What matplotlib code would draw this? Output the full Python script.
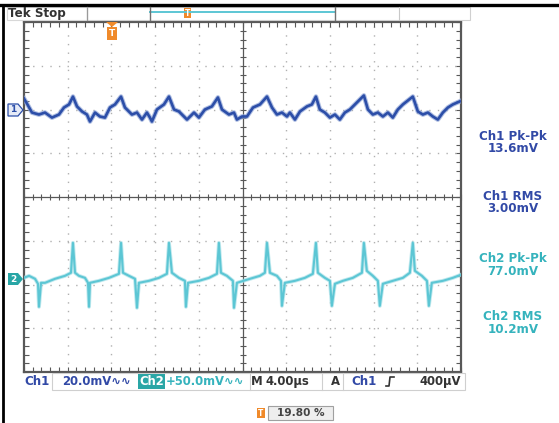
import numpy as np
import matplotlib
matplotlib.use("Agg")
import matplotlib.pyplot as plt
from matplotlib.patches import Polygon, Rectangle
from matplotlib.lines import Line2D

W, H = 559, 423

# ---------------- data ----------------
time_per_div = 4.0      # µs / div
ch1_scale = 20.0        # mV / div
ch2_scale = 50.0        # mV / div
ch1_pos = 2.0           # div
ch2_pos = -1.87         # div

ch1_t = [0.00, 0.27, 0.73, 1.37, 1.92, 2.56, 3.20, 3.66, 4.12, 4.48, 4.85, 5.31,
         5.76, 6.04, 6.50, 6.95, 7.41, 7.87, 8.33, 8.88, 9.24, 9.88, 10.34, 10.80,
         11.25, 11.53, 11.71, 12.17, 12.81, 13.27, 13.73, 14.18, 14.64, 14.92, 15.56,
         16.01, 16.56, 17.20, 17.75, 18.12, 18.76, 19.22, 19.49, 19.95, 20.41, 20.96,
         21.60, 22.24, 22.70, 23.15, 23.61, 24.07, 24.34, 24.80, 25.26, 25.90, 26.35,
         26.72, 27.08, 27.54, 28.00, 28.46, 28.91, 29.37, 29.83, 30.29, 31.11, 31.48,
         31.93, 32.39, 32.85, 33.31, 33.76, 34.22, 34.68, 35.59, 36.05, 36.51, 36.97,
         37.42, 37.88, 38.34, 38.80, 39.25, 39.89]
ch1_mv = [5.0, 2.7, -1.4, -2.3, -1.4, -3.7, -2.3, 0.9, 2.3, 5.9, 1.4, -0.9,
          -2.3, -5.5, -1.4, -3.2, -3.7, 0.9, 2.3, 5.9, 0.9, -2.3, -1.4, -4.6,
          -1.4, -3.7, -5.5, 0.0, 2.3, 5.9, 0.0, -0.9, -3.2, -4.6, -1.4,
          -3.7, 0.0, 1.4, 5.5, 0.0, -2.3, -1.4, -4.6, -3.2, -3.2, 0.9,
          2.3, 5.9, 0.9, -2.3, -1.4, -3.2, -1.4, -4.6, -0.9, 1.4, 2.3,
          5.9, 0.0, -1.4, -3.7, -2.3, -4.6, -1.4, 0.0, 2.3, 6.4, 0.0,
          -2.3, -1.4, -3.2, -1.4, -3.7, 0.0, 2.3, 5.9, -0.9, -2.3, -1.4,
          -3.2, -4.6, -1.4, 0.9, 2.3, 3.7]

ch2_t = [0.00, 0.46, 1.01, 1.28, 1.37, 1.56, 1.92, 2.84, 3.75, 4.30, 4.48, 4.67,
         5.03, 5.58, 5.86, 5.95, 6.04, 6.86, 7.78, 8.69, 8.88, 9.06, 9.61, 10.16,
         10.34, 10.52, 11.44, 12.35, 13.08, 13.27, 13.54, 14.18, 14.73, 14.82, 15.01,
         16.01, 16.93, 17.66, 17.84, 18.03, 18.57, 19.12, 19.22, 19.49, 20.68, 21.59,
         22.05, 22.24, 22.51, 23.15, 23.52, 23.61, 23.88, 24.80, 25.71, 26.44, 26.72,
         26.90, 27.54, 28.00, 28.18, 28.46, 29.19, 30.10, 30.93, 31.11, 31.38, 31.93,
         32.39, 32.57, 32.85, 33.76, 34.68, 35.32, 35.59, 35.78, 36.42, 36.88, 37.06,
         37.33, 38.34, 39.25, 39.98]
ch2_mv = [1.1, 3.4, 0.0, -5.7, -32.0, -4.6, -4.6, 0.0, 3.4, 6.9, 41.1, 6.9,
          3.4, 1.1, -4.6, -32.0, -4.6, -2.3, 1.1, 5.7, 41.1, 6.9, 3.4, 0.0,
          -33.1, -4.6, -2.3, 1.1, 5.7, 41.1, 6.9, 1.1, -2.3, -32.0, -4.6,
          -2.3, 1.1, 5.7, 41.1, 6.9, 3.4, -2.3, -33.1, -4.6, 0.0, 3.4,
          6.9, 41.1, 6.9, 3.4, -2.3, -30.9, -4.6, -2.3, 1.1, 5.7, 41.1,
          6.9, 1.1, -2.3, -30.9, -5.7, -2.3, 1.1, 6.9, 41.1, 9.1, 3.4,
          -2.3, -30.9, -5.7, -2.3, 1.1, 6.9, 41.1, 9.1, 3.4, -2.3, -30.9,
          -4.6, -2.3, 1.1, 4.6]

measure_labels = ["Ch1 Pk-Pk", "Ch1 RMS", "Ch2 Pk-Pk", "Ch2 RMS"]
measure_values = ["13.6mV", "3.00mV", "77.0mV", "10.2mV"]
trigger_pos_text = "19.80 %"

# ---------------- styles ----------------
C1 = "#2c4ea8"
C1_HALO = "#8da3d6"
C2 = "#5cc6d4"
C1_TXT = "#3149a6"
C2_TXT = "#35b3bd"
ORANGE = "#f08a2a"
FRAME = "#585858"
GRID = "#b0b0b0"
FONT = ["DejaVu Sans", "Noto Sans"]


def fx(x):
    return x / W


def fy(y):
    return 1 - y / H


fig = plt.figure(figsize=(W / 100, H / 100), dpi=100)
fig.patch.set_facecolor("white")

ax = fig.add_axes([fx(24), fy(372), 437 / W, 350 / H])
ax.set_xlim(0, 10 * time_per_div)
ax.set_ylim(-4, 4)
ax.set_facecolor("white")

# dotted graticule
for i in range(1, 10):
    if i != 5:
        ax.axvline(i * time_per_div, color=GRID, lw=1.0, ls=(0, (1, 5.2)), zorder=1)
for j in (-3, -2, -1, 1, 2, 3):
    ax.axhline(j, color=GRID, lw=1.0, ls=(0, (1, 5.2)), zorder=1)

# edge ticks
ax.set_xticks(np.arange(0, 40.01, time_per_div / 5))
ax.set_yticks(np.arange(-4, 4.01, 0.2))
ax.tick_params(direction="in", length=3.5, width=0.8, colors=FRAME,
               top=True, right=True, labelbottom=False, labelleft=False)
for s in ax.spines.values():
    s.set_color(FRAME)
    s.set_linewidth(1.6)

# centre cross with ticks
ax.axvline(20, color=FRAME, lw=0.9, zorder=2)
ax.axhline(0, color=FRAME, lw=0.9, zorder=2)
sx = ax.secondary_xaxis(0.5)
sx.set_xticks(np.arange(0, 40.01, time_per_div / 5))
sx.tick_params(direction="inout", length=5, width=0.8, colors=FRAME,
               labelbottom=False, labeltop=False)
sy = ax.secondary_yaxis(0.5)
sy.set_yticks(np.arange(-4, 4.01, 0.2))
sy.tick_params(direction="inout", length=5, width=0.8, colors=FRAME,
               labelleft=False, labelright=False)
for sec in (sx, sy):
    for s in sec.spines.values():
        s.set_visible(False)

# traces
y1 = ch1_pos + np.array(ch1_mv) / ch1_scale
y2 = ch2_pos + np.array(ch2_mv) / ch2_scale
ax.plot(ch1_t, y1, color=C1_HALO, lw=3.4, alpha=0.7, solid_joinstyle="round", zorder=3)
ax.plot(ch1_t, y1, color=C1, lw=1.9, solid_joinstyle="round", zorder=4)
ax.plot(ch2_t, y2, color="#a6e0e8", lw=2.8, alpha=0.7, solid_joinstyle="round", zorder=3)
ax.plot(ch2_t, y2, color=C2, lw=1.5, solid_joinstyle="round", zorder=4)


def fline(xs, ys, **kw):
    fig.add_artist(Line2D([fx(v) for v in xs], [fy(v) for v in ys],
                          transform=fig.transFigure, **kw))


def frect(x0, y0, x1, y1, **kw):
    fig.add_artist(Rectangle((fx(x0), fy(y1)), fx(x1) - fx(x0), fy(y0) - fy(y1),
                             transform=fig.transFigure, **kw))


def ftext(x, y, s, **kw):
    kw.setdefault("family", FONT)
    kw.setdefault("fontsize", 7.3)
    kw.setdefault("fontweight", "bold")
    kw.setdefault("va", "center")
    fig.text(fx(x), fy(y), s, **kw)


# outer black page lines
fline([0, W], [5, 5], color="black", lw=2.4)
fline([3, 3], [5, H], color="black", lw=2.0)

# top status bar
frect(87, 7, 470, 20, facecolor="none", edgecolor="#d0d0d0", lw=0.8)
frect(7, 7, 87, 20, facecolor="none", edgecolor="#d8d8d8", lw=0.8)
ftext(8, 13.5, "Tek Stop", color="#333333", ha="left", fontsize=8.6)
fline([87, 87], [7, 20], color="#9a9a9a", lw=0.9)
fline([150, 335], [12.5, 12.5], color=C2, lw=1.4)
fline([150, 150], [7, 20], color="#707070", lw=1.0)
fline([335, 335], [7, 20], color="#707070", lw=1.0)
fline([399, 399], [7, 20], color="#c8c8c8", lw=0.8)
frect(184, 8, 191, 18, facecolor=ORANGE, edgecolor="none")
ftext(187.5, 13.5, "T", color="white", ha="center", fontsize=5.5)

# trigger position marker on graticule
fig.add_artist(Polygon([(fx(106), fy(22)), (fx(118), fy(22)), (fx(112), fy(27))],
                       closed=True, transform=fig.transFigure, facecolor=ORANGE,
                       edgecolor="none"))
frect(107, 27, 117, 40, facecolor=ORANGE, edgecolor="none")
ftext(112, 33.5, "T", color="white", ha="center", fontsize=6.5)

# channel markers
fig.add_artist(Polygon([(fx(8), fy(104)), (fx(18), fy(104)), (fx(23), fy(110)),
                        (fx(18), fy(116)), (fx(8), fy(116))], closed=True,
                       transform=fig.transFigure, facecolor="#e6ebf7",
                       edgecolor=C1, lw=0.9))
ftext(13, 110, "1", color=C1, ha="center", fontsize=6.5)
fig.add_artist(Polygon([(fx(8), fy(273)), (fx(18), fy(273)), (fx(23), fy(279)),
                        (fx(18), fy(285)), (fx(8), fy(285))], closed=True,
                       transform=fig.transFigure, facecolor="#28a6a6",
                       edgecolor="none"))
ftext(13, 279, "2", color="white", ha="center", fontsize=6.5)

# measurement readouts
meas_y = [137, 196, 259, 317]
meas_col = [C1_TXT, C1_TXT, C2_TXT, C2_TXT]
for lab, val, yy, col in zip(measure_labels, measure_values, meas_y, meas_col):
    ftext(513, yy, lab, color=col, ha="center", fontsize=8.6)
    ftext(513, yy + 12, val, color=col, ha="center", fontsize=8.6)

# bottom status bar
BS = 8.4
frect(52, 373, 465, 390, facecolor="none", edgecolor="#cfcfcf", lw=0.8)
ftext(24, 381.5, "Ch1", color=C1_TXT, ha="left", fontsize=8.6)
ftext(62, 381.5, "20.0mV\u223f\u223f", color=C1_TXT, ha="left", fontsize=BS)
frect(138, 374, 165, 389, facecolor="#2aa6a6", edgecolor="none")
ftext(151.5, 381.5, "Ch2", color="white", ha="center", fontsize=BS)
ftext(166, 381.5, "+50.0mV\u223f\u223f", color=C2_TXT, ha="left", fontsize=BS)
fline([250, 250], [373, 390], color="#cfcfcf", lw=0.8)
ftext(251, 381.5, "M", color="#333333", ha="left", fontsize=BS)
ftext(265, 381.5, "4.00\u00b5s", color="#333333", ha="left", fontsize=BS)
fline([322, 322], [373, 390], color="#cfcfcf", lw=0.8)
ftext(335, 381.5, "A", color="#333333", ha="center", fontsize=BS)
fline([343, 343], [373, 390], color="#cfcfcf", lw=0.8)
ftext(351, 381.5, "Ch1", color=C1_TXT, ha="left", fontsize=8.6)
# rising-edge trigger slope symbol (no installed glyph) drawn as a shape
fline([386, 389, 390, 394], [386, 386, 377, 377], color="#333333", lw=1.2)
ftext(461, 381.5, "400\u00b5V", color="#333333", ha="right", fontsize=BS)

# trigger position readout
frect(257, 408, 265, 418, facecolor=ORANGE, edgecolor="none")
ftext(261, 413, "T", color="white", ha="center", fontsize=5.5)
frect(268, 406, 333, 420, facecolor="#eeeeee", edgecolor="#a0a0a0", lw=0.8)
ftext(300.5, 413, trigger_pos_text, color="#444444", ha="center", fontsize=7.6)

fig.savefig("out.png", dpi=100, facecolor="white")
